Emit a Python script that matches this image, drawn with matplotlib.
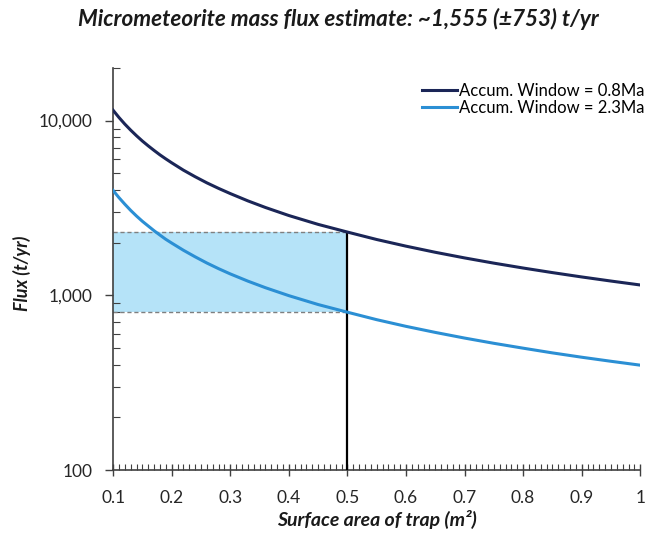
import matplotlib
matplotlib.use("Agg")
import matplotlib.pyplot as plt
from matplotlib.ticker import FixedLocator, MultipleLocator, LogLocator, NullFormatter, FuncFormatter

plt.rcParams['font.family'] = ['Lato', 'DejaVu Sans']

# trap surface area (m^2)
area = [0.10, 0.11, 0.12, 0.13, 0.14, 0.15, 0.16, 0.17, 0.18, 0.19,
        0.20, 0.22, 0.24, 0.26, 0.28, 0.30, 0.33, 0.36, 0.40, 0.45,
        0.50, 0.55, 0.60, 0.65, 0.70, 0.75, 0.80, 0.85, 0.90, 0.95, 1.00]
# flux (t/yr)
flux_08 = [11450, 10410, 9540, 8810, 8180, 7630, 7160, 6740, 6360, 6030,
           5730, 5200, 4770, 4400, 4090, 3820, 3470, 3180, 2860, 2545,
           2300, 2085, 1910, 1762, 1636, 1527, 1432, 1348, 1273, 1206, 1145]
flux_23 = [3980, 3620, 3320, 3060, 2840, 2650, 2490, 2340, 2210, 2090,
           1990, 1810, 1660, 1530, 1420, 1325, 1205, 1105, 995, 885,
           800, 725, 664, 613, 569, 531, 498, 468, 442, 419, 398]
labels = ['Accum. Window = 0.8Ma', 'Accum. Window = 2.3Ma']
colors = ['#1B2657', '#2B8FD4']

chosen_area = 0.5
band_low, band_high = 800, 2300

fig = plt.figure(figsize=(6.5, 5.39), dpi=100)
ax = fig.add_axes([0.174, 0.128, 0.811, 0.746])

ax.fill_between([0.1, chosen_area], band_low, band_high, color='#B5E3F8', lw=0)
ax.hlines([band_low, band_high], 0.1, chosen_area, colors='#7F7F7F',
          linestyles=(0, (3, 2)), lw=1.0)
ax.vlines(chosen_area, 100, band_high, colors='black', lw=1.6, zorder=3)

ax.plot(area, flux_08, color=colors[0], lw=2.2, label=labels[0], zorder=4)
ax.plot(area, flux_23, color=colors[1], lw=2.2, label=labels[1], zorder=4)

ax.set_yscale('log')
ax.set_xlim(0.1, 1.0)
ax.set_ylim(100, 20000)

ax.xaxis.set_major_locator(MultipleLocator(0.1))
ax.xaxis.set_minor_locator(MultipleLocator(0.01))
ax.xaxis.set_major_formatter(FuncFormatter(lambda v, p: '1' if abs(v - 1) < 1e-9 else f'{v:.1f}'))
ax.yaxis.set_major_locator(FixedLocator([100, 1000, 10000]))
ax.yaxis.set_minor_locator(LogLocator(base=10, subs=range(2, 10)))
ax.yaxis.set_major_formatter(FuncFormatter(lambda v, p: f'{int(v):,}'))
ax.yaxis.set_minor_formatter(NullFormatter())

ax.tick_params(axis='x', which='major', direction='inout', length=9, width=1,
               color='#404040', labelsize=12.5, labelcolor='#262626', pad=10)
ax.tick_params(axis='x', which='minor', direction='in', length=4, width=0.8, color='#404040')
ax.tick_params(axis='y', which='major', direction='out', length=6, width=1,
               color='#404040', labelsize=12.5, labelcolor='#262626', pad=9)
ax.tick_params(axis='y', which='minor', direction='in', length=5, width=0.8, color='#404040')

for s in ['top', 'right']:
    ax.spines[s].set_visible(False)
for s in ['left', 'bottom']:
    ax.spines[s].set_color('#404040')
    ax.spines[s].set_linewidth(1.2)

ax.set_xlabel('Surface area of trap (m\u00b2)', fontsize=14, fontweight='bold',
              style='italic', color='#1a1a1a')
ax.xaxis.set_label_coords(0.5, -0.1)
ax.set_ylabel('Flux (t/yr)', fontsize=13, fontweight='bold', style='italic',
              color='#1a1a1a')
ax.yaxis.set_label_coords(-0.155, 0.488)
fig.suptitle('Micrometeorite mass flux estimate: ~1,555 (\u00b1753) t/yr',
             x=0.52, y=0.985, fontsize=16.2, fontweight='bold', style='italic', color='#1a1a1a')

ax.legend(loc='upper right', bbox_to_anchor=(1.02, 0.98), frameon=False, fontsize=12,
          handlelength=2.1, handletextpad=0.1, labelspacing=0.1, borderaxespad=0)

fig.savefig('out.png', dpi=100)
